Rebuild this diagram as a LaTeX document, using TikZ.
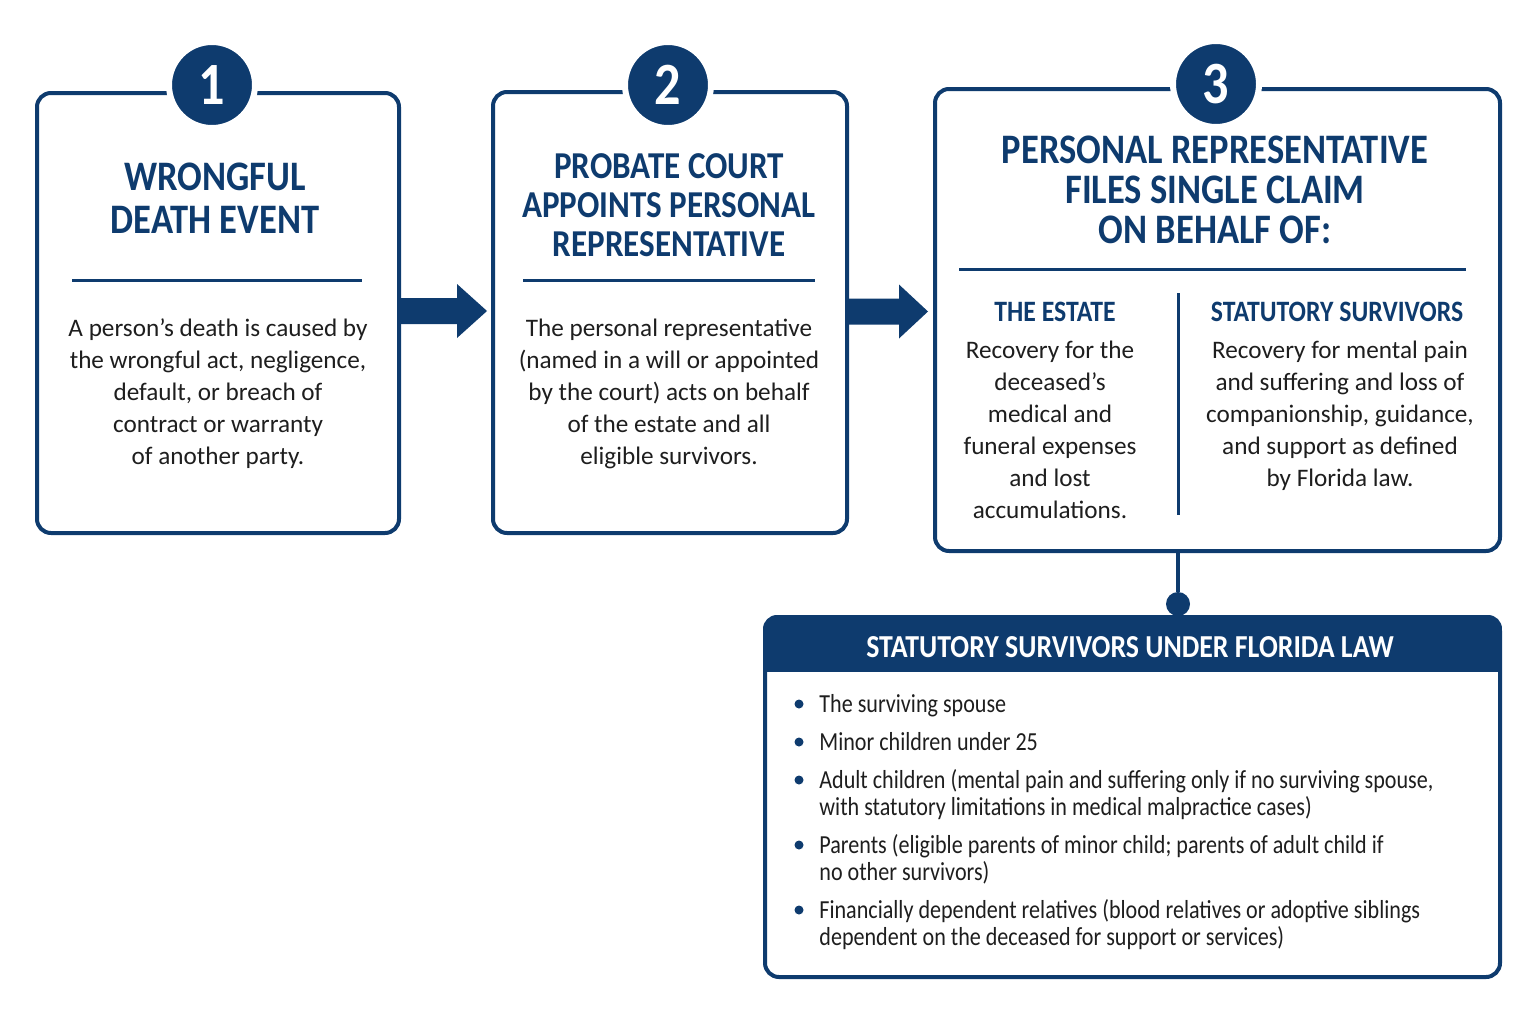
\documentclass[tikz,border=0pt]{standalone}
\usepackage{fontspec}
\setmainfont{Carlito}
\newfontfamily\headfont[FakeStretch=0.87]{Carlito}
\newfontfamily\listfont[FakeStretch=0.85]{Carlito}
\usetikzlibrary{calc}

\definecolor{navy}{RGB}{14,59,110}
\definecolor{ink}{RGB}{30,30,30}

\tikzset{
    stepbox/.style={draw=navy, line width=2pt, rounded corners=7pt, fill=white, inner sep=0pt},
    badge/.style={circle, fill=navy, draw=white, line width=3pt, minimum size=43pt, inner sep=0pt,
        text=white, font=\headfont\bfseries\fontsize{30}{30}\selectfont},
    steptitle/.style={align=center, text=navy, font=\headfont\bfseries\fontsize{21}{21.5}\selectfont},
    steptext/.style={align=center, text=ink, font=\fontsize{12.6}{16}\selectfont},
    subtitle/.style={text=navy, font=\headfont\bfseries\fontsize{14.8}{16}\selectfont},
    sepline/.style={draw=navy, line width=1.5pt},
    dot/.style={circle, fill=navy, minimum size=4.5pt, inner sep=0pt},
    listitem/.style={align=left, anchor=base west, inner sep=0pt, text=ink,
        font=\listfont\fontsize{13}{13.5}\selectfont},
}

\begin{document}
\begin{tikzpicture}[x=0.5pt, y=-0.5pt]
    \useasboundingbox (0,0) rectangle (1535,1023);

    % Step boxes
    \node[stepbox, minimum width=181pt, minimum height=220pt] (box1) at (218,313) {};
    \node[stepbox, minimum width=177pt, minimum height=220.5pt] (box2) at (670,312.5) {};
    \node[stepbox, minimum width=282.5pt, minimum height=231pt] (box3) at (1217.5,320) {};

    % Numbers
    \node[badge] (num1) at (212,85) {1};
    \node[badge] (num2) at (668,85) {2};
    \node[badge] (num3) at (1216,84) {3};

    % Step 1
    \node[steptitle] (title1) at (215,198) {WRONGFUL\\DEATH EVENT};
    \draw[sepline] (72,280) -- (362,280);
    \node[steptext] (text1) at (218,394) {A person’s death is caused by\\the wrongful act, negligence,\\default, or breach of\\contract or warranty\\of another party.};

    % Step 2
    \node[steptitle, font=\headfont\bfseries\fontsize{19}{19.5}\selectfont] (title2) at (669,205) {PROBATE COURT\\APPOINTS PERSONAL\\REPRESENTATIVE};
    \draw[sepline] (523,280) -- (815,280);
    \node[steptext] (text2) at (669,394) {The personal representative\\(named in a will or appointed\\by the court) acts on behalf\\of the estate and all\\eligible survivors.};

    % Step 3
    \node[steptitle, font=\headfont\bfseries\fontsize{21}{20}\selectfont] (title3) at (1215,190) {PERSONAL REPRESENTATIVE\\FILES SINGLE CLAIM\\ON BEHALF OF:};
    \draw[sepline] (959,269) -- (1466,269);
    \draw[sepline] (1178,293) -- (1178,515);
    \node[subtitle] (estate) at (1055,312) {THE ESTATE};
    \node[subtitle] (survivors) at (1337,312) {STATUTORY SURVIVORS};
    \node[steptext] (text3a) at (1050,430) {Recovery for the\\deceased’s\\medical and\\funeral expenses\\and lost\\accumulations.};
    \node[steptext] (text3b) at (1340,416) {Recovery for mental pain\\and suffering and loss of\\companionship, guidance,\\and support as defined\\by Florida law.};

    % Arrows between steps
    \begin{scope}[shift={(box1.east)}]
    \fill[navy] (0,-15) -- (56,-15) -- (56,-29) -- (86,-2) -- (56,25) -- (56,11) -- (0,11) -- cycle;
    \end{scope}
    \begin{scope}[shift={(box2.east)}]
    \fill[navy] (0,-14) -- (50,-14) -- (50,-28) -- (79,-1) -- (50,26) -- (50,12) -- (0,12) -- cycle;
    \end{scope}

    % Survivors list
    \node[stepbox, minimum width=367.5pt, minimum height=180pt] (box4) at (1132.5,797) {};
    \begin{scope}
    \clip[rounded corners=7pt] (box4.north west) rectangle (box4.south east);
    \fill[navy] (box4.north west) rectangle (box4.east |- 0,672);
    \end{scope}
    \node[subtitle, text=white, font=\headfont\bfseries\fontsize{16}{18}\selectfont] (head4) at (1130,647) {STATUTORY SURVIVORS UNDER FLORIDA LAW};

    \node[dot, minimum size=12pt] (joint) at (1178,604) {};
    \draw[navy, line width=2pt] (joint) -- (joint |- box3.south);

    % bullet y / baseline of last line / text
    \foreach \b/\y/\txt [count=\i] in {
        704/712/{The surviving spouse},
        742/750/{Minor children under 25},
        780/815/{Adult children (mental pain and suffering only if no surviving spouse,\\with statutory limitations in medical malpractice cases)},
        845/880/{Parents (eligible parents of minor child; parents of adult child if\\no other survivors)},
        910/945/{Financially dependent relatives (blood relatives or adoptive siblings\\dependent on the deceased for support or services)}} {
        \node[dot] (bullet\i) at (799,\b) {};
        \node[listitem] (item\i) at (819,\y) {\txt};
    }
\end{tikzpicture}
\end{document}
